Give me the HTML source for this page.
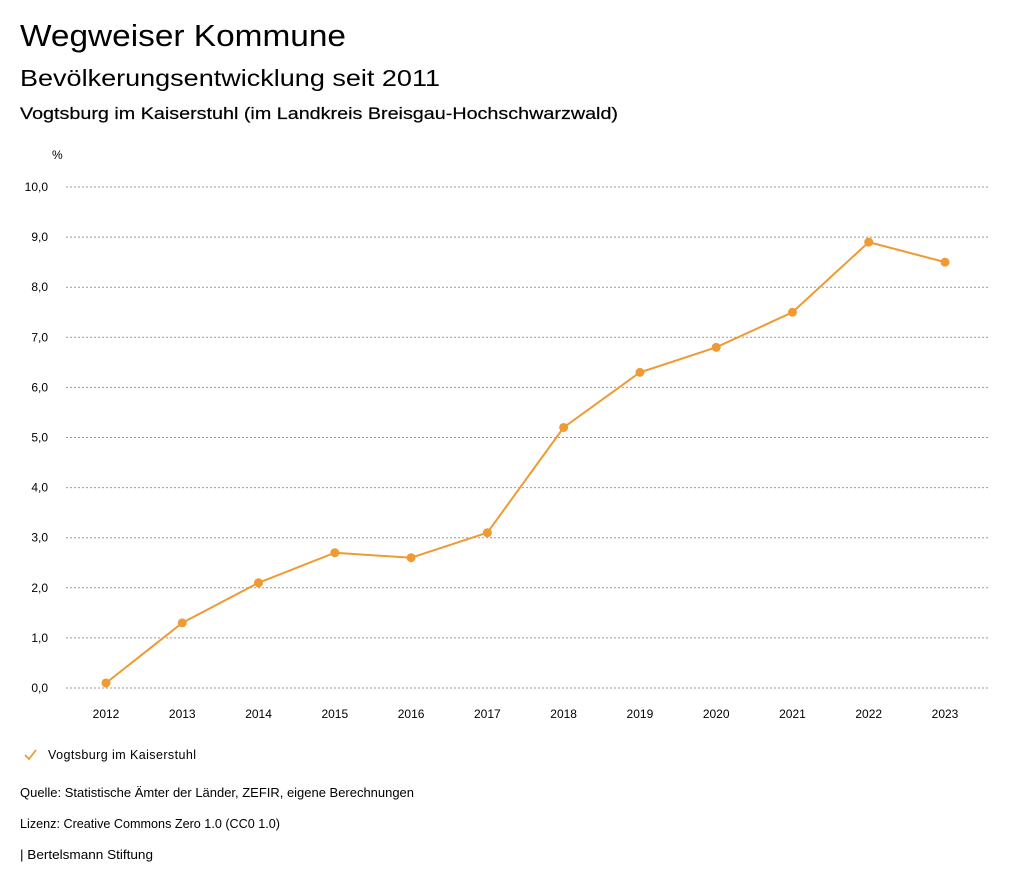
<!DOCTYPE html>
<html><head><meta charset="utf-8"><style>
body{margin:0;background:#fff;width:1024px;height:888px;overflow:hidden;font-family:"Liberation Sans",sans-serif;color:#000}
.t{position:absolute;white-space:nowrap;transform-origin:0 0}
</style></head><body>
<div class="t" data-w="326" style="left:20px;top:18px;font-size:31px">Wegweiser Kommune</div>
<div class="t" data-w="420" style="left:20px;top:65px;font-size:23px">Bevölkerungsentwicklung seit 2011</div>
<div class="t" data-w="598" style="left:20px;top:104px;font-size:17px;font-weight:bold;-webkit-text-stroke:0.2px #000;font-weight:normal">Vogtsburg im Kaiserstuhl (im Landkreis Breisgau-Hochschwarzwald)</div>
<svg id="c" width="1024" height="888" style="position:absolute;left:0;top:0"></svg>
<div class="t" data-w="394" style="left:20px;top:786px;font-size:12.5px">Quelle: Statistische Ämter der Länder, ZEFIR, eigene Berechnungen</div>
<div class="t" data-w="260" style="left:20px;top:817px;font-size:12.5px">Lizenz: Creative Commons Zero 1.0 (CC0 1.0)</div>
<div class="t" data-w="133" style="left:20px;top:848px;font-size:12.5px">| Bertelsmann Stiftung</div>
<script>
const years=["2012","2013","2014","2015","2016","2017","2018","2019","2020","2021","2022","2023"];
const values=[0.1,1.3,2.1,2.7,2.6,3.1,5.2,6.3,6.8,7.5,8.9,8.5];
const yTicks=[0,1,2,3,4,5,6,7,8,9,10];
document.querySelectorAll('.t[data-w]').forEach(e=>{const w=e.getBoundingClientRect().width;e.style.transform='scaleX('+(+e.dataset.w/w)+')';});
const NS="http://www.w3.org/2000/svg",svg=document.getElementById('c');
const x=i=>106+i*(945-106)/11, y=v=>688-v*50.1;
function mk(t,a,txt){const e=document.createElementNS(NS,t);for(const k in a)e.setAttribute(k,a[k]);if(txt!=null)e.textContent=txt;svg.appendChild(e);return e;}
const u=mk('text',{x:52,y:159,'font-size':12,'font-family':'Liberation Sans'},'%');


yTicks.forEach(v=>{
 const l=mk('line',{x1:66,x2:990,y1:y(v),y2:y(v),stroke:'#999','stroke-dasharray':'2,2','stroke-width':1});
 
 
 const t=mk('text',{x:48,y:y(v)+4,'text-anchor':'end','font-size':12,'font-family':'Liberation Sans'},v.toFixed(1).replace('.',','));
 
 
});
years.forEach((yr,i)=>{
 const t=mk('text',{x:x(i),y:718,'text-anchor':'middle','font-size':12,'font-family':'Liberation Sans'},yr);
 
 
});
const p=mk('polyline',{points:values.map((v,i)=>x(i)+','+y(v)).join(' '),fill:'none',stroke:'#ef9a34','stroke-width':2});


values.forEach((v,i)=>{
 const c=mk('circle',{cx:x(i),cy:y(v),r:4.5,fill:'#ef9a34'});
 
 
});
const lg=mk('polyline',{points:'25,755 29,759 36,750',fill:'none',stroke:'#ef9a34','stroke-width':1.8});


const lt=mk('text',{x:48,y:759,'font-size':12.5,'font-family':'Liberation Sans',textLength:148},'Vogtsburg im Kaiserstuhl');


</script>
</body></html>
